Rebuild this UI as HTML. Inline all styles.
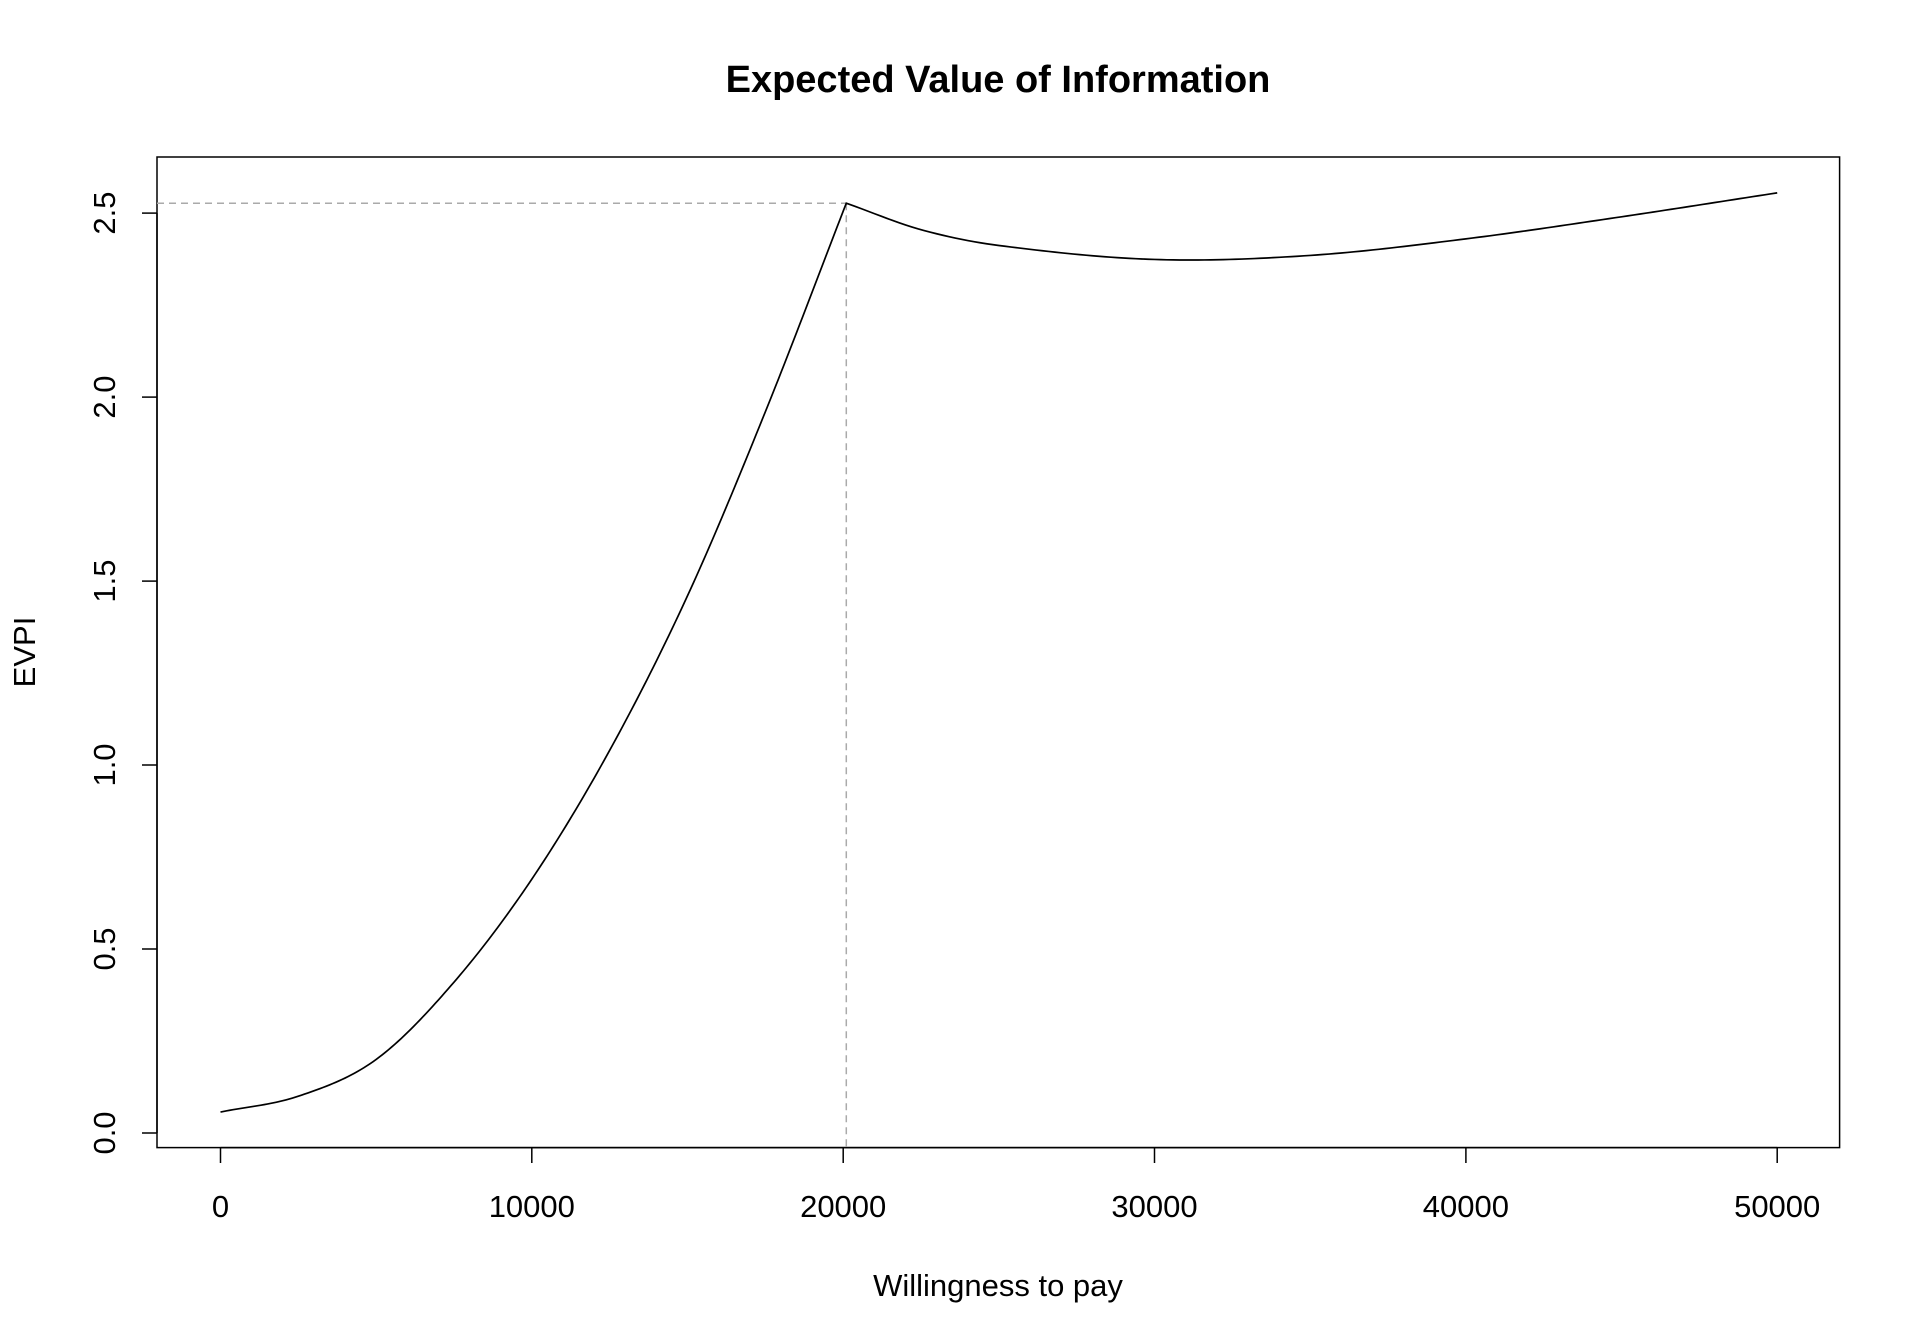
<!DOCTYPE html>
<html><head><meta charset="utf-8"><style>
html,body{margin:0;padding:0;background:#fff;}
svg{display:block;font-family:"Liberation Sans",Arial,sans-serif;}
</style></head><body>
<svg id="s" width="1920" height="1344" viewBox="0 0 1920 1344" xmlns="http://www.w3.org/2000/svg">
<rect width="1920" height="1344" fill="#fff"/>
<text x="998" y="92" text-anchor="middle" font-size="38" font-weight="bold">Expected Value of Information</text>
<rect x="157" y="157" width="1682.6" height="990.6" fill="none" stroke="#000" stroke-width="1.5"/>
<g stroke="#000" stroke-width="1.5">
<line x1="220.5" y1="1147.6" x2="1777.2" y2="1147.6"/>
<line x1="220.5" y1="1147.6" x2="220.5" y2="1163"/>
<line x1="531.8" y1="1147.6" x2="531.8" y2="1163"/>
<line x1="843.2" y1="1147.6" x2="843.2" y2="1163"/>
<line x1="1154.5" y1="1147.6" x2="1154.5" y2="1163"/>
<line x1="1465.9" y1="1147.6" x2="1465.9" y2="1163"/>
<line x1="1777.2" y1="1147.6" x2="1777.2" y2="1163"/>
<line x1="157" y1="1133" x2="157" y2="213.1"/>
<line x1="142" y1="1133" x2="157" y2="1133"/>
<line x1="142" y1="949" x2="157" y2="949"/>
<line x1="142" y1="765" x2="157" y2="765"/>
<line x1="142" y1="581.1" x2="157" y2="581.1"/>
<line x1="142" y1="397.1" x2="157" y2="397.1"/>
<line x1="142" y1="213.1" x2="157" y2="213.1"/>
</g>
<g font-size="31" text-anchor="middle">
<text x="220.5" y="1217">0</text>
<text x="531.8" y="1217">10000</text>
<text x="843.2" y="1217">20000</text>
<text x="1154.5" y="1217">30000</text>
<text x="1465.9" y="1217">40000</text>
<text x="1777.2" y="1217">50000</text>
<text transform="translate(115,1133) rotate(-90)">0.0</text>
<text transform="translate(115,949) rotate(-90)">0.5</text>
<text transform="translate(115,765) rotate(-90)">1.0</text>
<text transform="translate(115,581.1) rotate(-90)">1.5</text>
<text transform="translate(115,397.1) rotate(-90)">2.0</text>
<text transform="translate(115,213.1) rotate(-90)">2.5</text>
<text x="998" y="1296">Willingness to pay</text>
<text transform="translate(35,652) rotate(-90)">EVPI</text>
</g>
<g stroke="#aaa" stroke-width="1.5" stroke-dasharray="7,5" fill="none">
<line x1="157" y1="203.3" x2="846.3" y2="203.3"/>
<line x1="846.3" y1="203.3" x2="846.3" y2="1147.6"/>
</g>
<path id="c" fill="none" stroke="#000" stroke-width="1.7"/>
</svg>
<script>
function X(w){return 220.5+w*31.134;}function Y(v){return 1133-v*367.96;}
function cr(Q,w){for(var i=0;i<Q.length-1;i++){if(w<=Q[i+1][0]+1e-9){var p0=Q[Math.max(i-1,0)],p1=Q[i],p2=Q[i+1],p3=Q[Math.min(i+2,Q.length-1)];
var h=p2[0]-p1[0],m1=(p2[1]-p0[1])/(p2[0]-p0[0]),m2=(p3[1]-p1[1])/(p3[0]-p1[0]);
var t=(w-p1[0])/h;return (2*t*t*t-3*t*t+1)*p1[1]+(t*t*t-2*t*t+t)*h*m1+(-2*t*t*t+3*t*t)*p2[1]+(t*t*t-t*t)*h*m2;}}return Q[Q.length-1][1];}
var L=[[0,0.057],[2.5,0.1],[5,0.2],[7.5,0.41],[10,0.69],[12.5,1.04],[15,1.46],[17.5,1.96],[20.1,2.527]];
var Q=[[20.1,2.527],[22.5,2.455],[25,2.412],[30,2.374],[35,2.385],[40,2.43],[45,2.49],[50,2.555]];
var d="";for(var w=0;w<=20.1001;w+=0.1){d+=(d?"L":"M")+X(w).toFixed(2)+","+Y(cr(L,w)).toFixed(2);}
for(var w=20.2;w<=50.0001;w+=0.2){d+="L"+X(w).toFixed(2)+","+Y(cr(Q,w)).toFixed(2);}
document.getElementById("c").setAttribute("d",d);
</script>
</body></html>
